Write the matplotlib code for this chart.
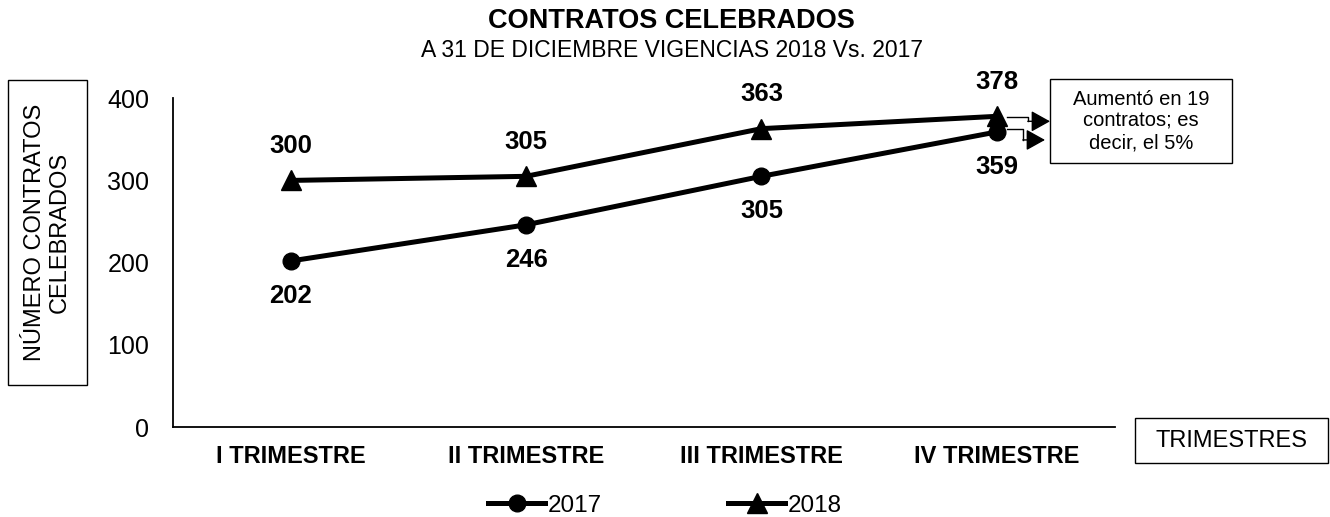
import matplotlib.pyplot as plt
from matplotlib.lines import Line2D
from matplotlib.patches import Rectangle

plt.rcParams['font.family'] = ['Liberation Sans', 'DejaVu Sans']

trimestres = ['I TRIMESTRE', 'II TRIMESTRE', 'III TRIMESTRE', 'IV TRIMESTRE']
contratos_2017 = [202, 246, 305, 359]
contratos_2018 = [300, 305, 363, 378]
nota = 'Aumentó en 19\ncontratos; es\ndecir, el 5%'


def boxed_text(fig, x0, y0, w, h, text, **kw):
    fig.add_artist(Rectangle((x0, y0), w, h, transform=fig.transFigure,
                             fill=True, fc='white', ec='black', lw=1, zorder=3))
    fig.text(x0 + w / 2, y0 + h / 2, text, ha='center', va='center', zorder=4, **kw)


def connector(fig, ax, point, dx1, dy1, dy2, x_end):
    # stepped line from a data point to the note box, in pixels
    W, H = fig.bbox.width, fig.bbox.height
    px, py = ax.transData.transform(point)
    xs = [px + 10, px + dx1, px + dx1]
    ys = [py + dy1, py + dy1, py + dy2]
    fig.add_artist(Line2D([v / W for v in xs], [v / H for v in ys],
                          transform=fig.transFigure, color='black', lw=1))
    ax.annotate('', xy=(x_end / W, (py + dy2) / H), xycoords='figure fraction',
                xytext=(xs[-1] / W, ys[-1] / H), textcoords='figure fraction',
                arrowprops=dict(arrowstyle='-|>,head_length=0.9,head_width=0.5',
                                color='black', lw=1, mutation_scale=13,
                                shrinkA=0, shrinkB=0))


def main():
    fig = plt.figure(figsize=(13.3, 5.17), dpi=100)
    ax = fig.add_axes([0.130, 0.174, 0.708, 0.636])

    x = list(range(len(trimestres)))
    ax.plot(x, contratos_2017, color='black', linewidth=3.6, marker='o',
            markersize=12, label='2017')
    ax.plot(x, contratos_2018, color='black', linewidth=3.6, marker='^',
            markersize=15, label='2018')

    # Value labels: 2018 above, 2017 below
    for xi, v in zip(x, contratos_2018):
        ax.annotate(str(v), (xi, v), xytext=(0, 25), textcoords='offset points',
                    ha='center', va='center', fontsize=18.5, fontweight='bold')
    for xi, v in zip(x, contratos_2017):
        ax.annotate(str(v), (xi, v), xytext=(0, -25), textcoords='offset points',
                    ha='center', va='center', fontsize=18.5, fontweight='bold')

    ax.set_xlim(-0.5, 3.5)
    ax.set_ylim(0, 400)
    ax.set_yticks([0, 100, 200, 300, 400])
    ax.set_xticks(x)
    ax.set_xticklabels(trimestres, fontweight='bold', fontsize=17)
    ax.tick_params(axis='both', length=0)
    ax.tick_params(axis='y', pad=17, labelsize=18)
    ax.tick_params(axis='x', pad=13)
    for side in ['top', 'right']:
        ax.spines[side].set_visible(False)
    for side in ['left', 'bottom']:
        ax.spines[side].set_linewidth(1.3)

    # Titles
    fig.text(0.505, 0.959, 'CONTRATOS CELEBRADOS', ha='center', va='center',
             fontsize=19.5, fontweight='bold')
    fig.text(0.505, 0.903, 'A 31 DE DICIEMBRE VIGENCIAS 2018 Vs. 2017',
             ha='center', va='center', fontsize=16.5)

    # Boxed axis labels and note
    boxed_text(fig, 0.006, 0.255, 0.0594, 0.59, 'NÚMERO CONTRATOS\nCELEBRADOS',
               rotation=90, fontsize=17, linespacing=1.15)
    boxed_text(fig, 0.8534, 0.1044, 0.1451, 0.087, 'TRIMESTRES', fontsize=17)
    boxed_text(fig, 0.7895, 0.6847, 0.1368, 0.1625, nota, fontsize=14.5,
               linespacing=1.2)

    connector(fig, ax, (x[-1], contratos_2018[-1]), 31, -1, -5, 1050)
    connector(fig, ax, (x[-1], contratos_2017[-1]), 26, 3, -8, 1045)

    fig.legend(loc='center', bbox_to_anchor=(0.5, 0.022), ncol=2, frameon=False,
               fontsize=17.5, handlelength=2.35, columnspacing=5.2,
               handletextpad=0.1)

    fig.savefig('out.png', dpi=100)


if __name__ == '__main__':
    main()
